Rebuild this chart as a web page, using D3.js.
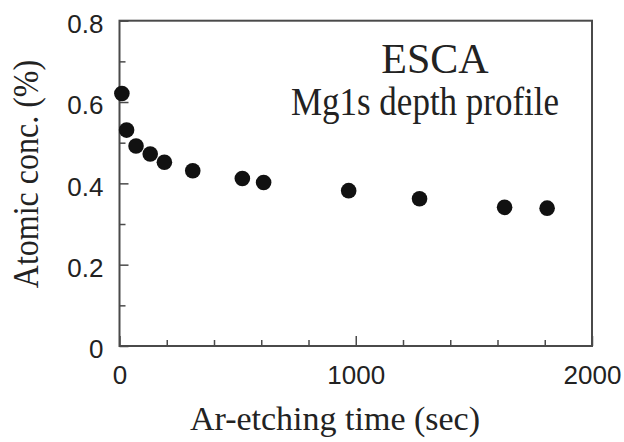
<!DOCTYPE html>
<html>
<head>
<meta charset="utf-8">
<script src="https://cdn.jsdelivr.net/npm/d3@7"></script>
<style>
  html, body { margin: 0; padding: 0; background: #fff; }
  #chart { width: 624px; height: 442px; }
</style>
</head>
<body>
<div id="chart"></div>
<script>
//
// ESCA Mg1s depth profile scatter
//

const _marginTop = 20.7;
const _marginLeft = 119.5;
const _marginRight = 32;
const _marginBottom = 96;

const _width = 624;
const _height = 442;

// etching time (sec) and atomic concentration (%)
var etchTime = [10, 30, 70, 130, 190, 310, 520, 610, 970, 1270, 1630, 1810];
var atomicConc = [0.621, 0.531, 0.492, 0.472, 0.452, 0.431, 0.412, 0.402, 0.382, 0.362, 0.341, 0.339];

var xTicks = [0, 1000, 2000];
var xMinorTicks = [200, 400, 600, 800, 1200, 1400, 1600, 1800];
var yTicks = [0, 0.2, 0.4, 0.6, 0.8];
var yMinorTicks = [0.1, 0.3, 0.5, 0.7];

var _frameColor = "#4a4a4a";
var _textColor = "#222";
var _serif = "'Liberation Serif', 'Times New Roman', serif";

function drawChart(divName) {
    var svg = d3.select("#" + divName)
        .append("svg")
        .attr("width", _width)
        .attr("height", _height);

    var x = d3.scaleLinear().domain([0, 2000]).range([_marginLeft, _width - _marginRight]);
    var y = d3.scaleLinear().domain([0, 0.8]).range([_height - _marginBottom, _marginTop]);

    // frame
    svg.append("rect")
        .attr("x", x(0))
        .attr("y", y(0.8))
        .attr("width", x(2000) - x(0))
        .attr("height", y(0) - y(0.8))
        .attr("fill", "none")
        .attr("stroke", _frameColor)
        .attr("stroke-width", 2);

    // x-axis (ticks inward)
    var xAxis = d3.axisBottom(x).tickValues(xTicks).tickSize(-10).tickPadding(20)
        .tickFormat(d3.format("d"));
    var gx = svg.append("g")
        .attr("class", "x axis")
        .attr("transform", "translate(0," + y(0) + ")")
        .call(xAxis);
    gx.select(".domain").remove();

    var xMinor = d3.axisBottom(x).tickValues(xMinorTicks).tickSize(-6).tickFormat("");
    svg.append("g")
        .attr("transform", "translate(0," + y(0) + ")")
        .call(xMinor)
        .select(".domain").remove();

    // y-axis
    var yAxis = d3.axisLeft(y).tickValues(yTicks).tickSize(-9).tickPadding(16)
        .tickFormat(d => d === 0 ? "0" : d3.format(".1f")(d));
    var gy = svg.append("g")
        .attr("class", "y axis")
        .attr("transform", "translate(" + x(0) + ",0)")
        .call(yAxis);
    gy.select(".domain").remove();

    var yMinor = d3.axisLeft(y).tickValues(yMinorTicks).tickSize(-6).tickFormat("");
    svg.append("g")
        .attr("transform", "translate(" + x(0) + ",0)")
        .call(yMinor)
        .select(".domain").remove();

    svg.selectAll(".tick line")
        .attr("stroke", _frameColor)
        .attr("stroke-width", 1.5);

    svg.selectAll(".tick text")
        .attr("fill", _textColor)
        .style("font-family", "'Liberation Sans', Arial, sans-serif")
        .style("font-size", "26px");

    gy.selectAll(".tick text").attr("dy", "0.45em");

    // axis labels
    svg.append("text")
        .attr("x", 335)
        .attr("y", 430)
        .style("text-anchor", "middle")
        .style("font-family", _serif)
        .style("font-size", "34px")
        .attr("fill", _textColor)
        .text("Ar-etching time (sec)");

    svg.append("text")
        .attr("transform", "translate(38,174) rotate(-90) scale(1,1.12)")
        .style("text-anchor", "middle")
        .style("font-family", _serif)
        .style("font-size", "32px")
        .attr("fill", _textColor)
        .text("Atomic conc. (%)");

    // annotation
    svg.append("text")
        .attr("x", 435)
        .attr("y", 73)
        .style("text-anchor", "middle")
        .style("font-family", _serif)
        .style("font-size", "42px")
        .attr("fill", _textColor)
        .text("ESCA");

    svg.append("text")
        .attr("transform", "translate(425,115) scale(1,1.12)")
        .style("text-anchor", "middle")
        .style("font-family", _serif)
        .style("font-size", "35px")
        .attr("fill", _textColor)
        .text("Mg1s depth profile");

    // points
    var points = etchTime.map((t, i) => ({ x: t, y: atomicConc[i] }));
    svg.append("g")
        .selectAll("circle")
        .data(points)
        .join("circle")
        .attr("cx", d => x(d.x))
        .attr("cy", d => y(d.y))
        .attr("r", 7.8)
        .attr("fill", "#111");
}

drawChart("chart");
</script>
</body>
</html>
